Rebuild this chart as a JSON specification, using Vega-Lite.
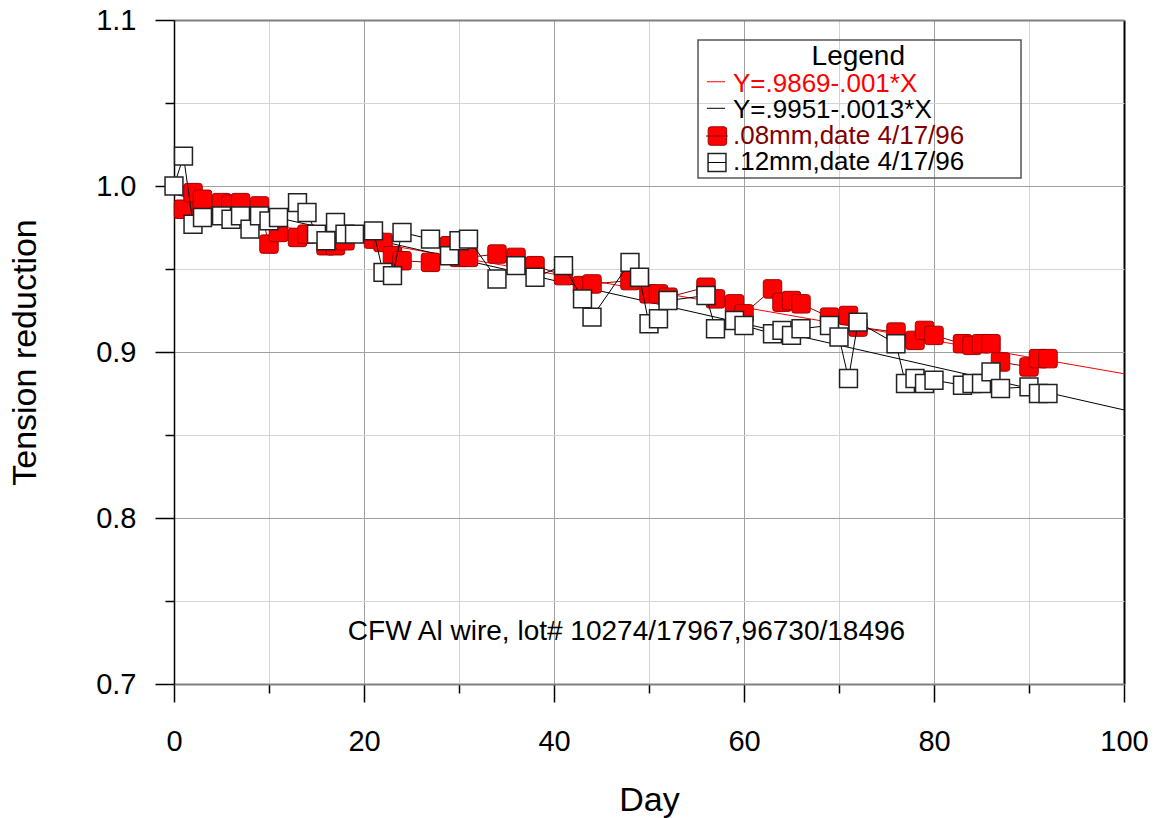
{
  "$schema": "https://vega.github.io/schema/vega-lite/v6.json",
  "width": 950,
  "height": 664,
  "autosize": {"type": "none"},
  "padding": {"left": 174, "top": 20, "right": 32, "bottom": 134},
  "background": "white",
  "config": {"font": "Liberation Sans", "view": {"stroke": null}},
  "resolve": {"axis": {"x": "independent", "y": "independent"}},
  "datasets": {
    "fit": [
      {"series": "red", "day": 0, "value": 0.9869},
      {"series": "red", "day": 100, "value": 0.8869},
      {"series": "black", "day": 0, "value": 0.9951},
      {"series": "black", "day": 100, "value": 0.8651}
    ],
    "r": [
      {"day": 1, "value": 0.986}, {"day": 2, "value": 0.996}, {"day": 3, "value": 0.992},
      {"day": 5, "value": 0.990}, {"day": 6, "value": 0.989}, {"day": 7, "value": 0.990},
      {"day": 9, "value": 0.988}, {"day": 10, "value": 0.965}, {"day": 11, "value": 0.972},
      {"day": 13, "value": 0.969}, {"day": 14, "value": 0.971}, {"day": 16, "value": 0.964},
      {"day": 17, "value": 0.964}, {"day": 18, "value": 0.967}, {"day": 21, "value": 0.968},
      {"day": 22, "value": 0.966}, {"day": 23, "value": 0.958}, {"day": 24, "value": 0.955},
      {"day": 27, "value": 0.954}, {"day": 29, "value": 0.964}, {"day": 30, "value": 0.957},
      {"day": 31, "value": 0.957}, {"day": 34, "value": 0.959}, {"day": 36, "value": 0.957},
      {"day": 38, "value": 0.952}, {"day": 41, "value": 0.946}, {"day": 43, "value": 0.940},
      {"day": 44, "value": 0.941}, {"day": 48, "value": 0.943}, {"day": 50, "value": 0.935},
      {"day": 51, "value": 0.935}, {"day": 52, "value": 0.933}, {"day": 56, "value": 0.939},
      {"day": 57, "value": 0.932}, {"day": 59, "value": 0.929}, {"day": 60, "value": 0.923},
      {"day": 63, "value": 0.938}, {"day": 64, "value": 0.930}, {"day": 65, "value": 0.931},
      {"day": 66, "value": 0.929}, {"day": 69, "value": 0.921}, {"day": 71, "value": 0.922},
      {"day": 72, "value": 0.915}, {"day": 76, "value": 0.912}, {"day": 78, "value": 0.907},
      {"day": 79, "value": 0.913}, {"day": 80, "value": 0.910}, {"day": 83, "value": 0.905},
      {"day": 84, "value": 0.904}, {"day": 85, "value": 0.905}, {"day": 86, "value": 0.905},
      {"day": 87, "value": 0.894}, {"day": 90, "value": 0.891}, {"day": 91, "value": 0.896},
      {"day": 92, "value": 0.896}
    ],
    "w": [
      {"day": 0, "value": 1.000}, {"day": 1, "value": 1.018}, {"day": 2, "value": 0.977},
      {"day": 3, "value": 0.981}, {"day": 5, "value": 0.982}, {"day": 6, "value": 0.980},
      {"day": 7, "value": 0.982}, {"day": 8, "value": 0.974}, {"day": 9, "value": 0.982},
      {"day": 10, "value": 0.979}, {"day": 11, "value": 0.981}, {"day": 13, "value": 0.990},
      {"day": 14, "value": 0.984}, {"day": 15, "value": 0.971}, {"day": 16, "value": 0.967},
      {"day": 17, "value": 0.978}, {"day": 18, "value": 0.971}, {"day": 19, "value": 0.971},
      {"day": 21, "value": 0.973}, {"day": 22, "value": 0.948}, {"day": 23, "value": 0.946},
      {"day": 24, "value": 0.972}, {"day": 27, "value": 0.968}, {"day": 29, "value": 0.958},
      {"day": 30, "value": 0.967}, {"day": 31, "value": 0.968}, {"day": 34, "value": 0.944},
      {"day": 36, "value": 0.952}, {"day": 38, "value": 0.945}, {"day": 41, "value": 0.952},
      {"day": 43, "value": 0.932}, {"day": 44, "value": 0.921}, {"day": 48, "value": 0.954},
      {"day": 49, "value": 0.945}, {"day": 50, "value": 0.917}, {"day": 51, "value": 0.920},
      {"day": 52, "value": 0.931}, {"day": 56, "value": 0.934}, {"day": 57, "value": 0.914},
      {"day": 59, "value": 0.919}, {"day": 60, "value": 0.916}, {"day": 63, "value": 0.911},
      {"day": 64, "value": 0.913}, {"day": 65, "value": 0.910}, {"day": 66, "value": 0.914},
      {"day": 69, "value": 0.916}, {"day": 70, "value": 0.909}, {"day": 71, "value": 0.884},
      {"day": 72, "value": 0.918}, {"day": 76, "value": 0.905}, {"day": 77, "value": 0.881},
      {"day": 78, "value": 0.884}, {"day": 79, "value": 0.881}, {"day": 80, "value": 0.883},
      {"day": 83, "value": 0.880}, {"day": 84, "value": 0.881}, {"day": 85, "value": 0.881},
      {"day": 86, "value": 0.888}, {"day": 87, "value": 0.878}, {"day": 90, "value": 0.879},
      {"day": 91, "value": 0.875}, {"day": 92, "value": 0.875}
    ]
  },
  "layer": [
    {
      "data": {"name": "fit"},
      "mark": {"type": "line", "strokeWidth": 1},
      "encoding": {
        "x": {
          "field": "day", "type": "quantitative",
          "scale": {"domain": [0, 100], "nice": false, "zero": false},
          "axis": {
            "orient": "bottom",
            "title": "Day", "titleFontSize": 34, "titleFontWeight": "normal", "titleColor": "#000",
            "titleX": 475, "titleY": 126, "titleBaseline": "alphabetic", "titleAlign": "center",
            "values": [0, 10, 20, 30, 40, 50, 60, 70, 80, 90, 100],
            "format": "d",
            "labelExpr": "datum.value % 20 === 0 ? datum.label : ''",
            "labelFontSize": 29, "labelColor": "#000", "labelPadding": 25,
            "labelFlush": false, "labelOverlap": false, "labelBaseline": "top",
            "tickSize": {"condition": {"test": "datum.value % 20 === 0", "value": 18}, "value": 9},
            "tickColor": "#000", "tickWidth": 1.5,
            "grid": true,
            "gridColor": {"condition": [{"test": "datum.value === 100", "value": "#000"}, {"test": "datum.value % 20 === 0", "value": "#a0a0a0"}], "value": "#d4d4d4"},
            "gridWidth": {"condition": {"test": "datum.value === 100", "value": 2}, "value": 1},
            "domainColor": "#808080", "domainWidth": 2
          }
        },
        "y": {
          "field": "value", "type": "quantitative",
          "scale": {"domain": [0.7, 1.1], "nice": false, "zero": false},
          "axis": {
            "orient": "left",
            "title": "Tension reduction", "titleFontSize": 34, "titleFontWeight": "normal", "titleColor": "#000",
            "titleX": -139, "titleY": 332, "titleAngle": 270, "titleBaseline": "alphabetic", "titleAlign": "center",
            "values": [0.7, 0.75, 0.8, 0.85, 0.9, 0.95, 1.0, 1.05, 1.1],
            "labelExpr": "abs(datum.value*10 - round(datum.value*10)) < 0.001 ? format(datum.value, '.1f') : ''",
            "labelFontSize": 29, "labelColor": "#000", "labelPadding": 19,
            "labelFlush": false, "labelOverlap": false,
            "tickSize": {"condition": {"test": "abs(datum.value*10 - round(datum.value*10)) < 0.001", "value": 19}, "value": 9},
            "tickColor": "#000", "tickWidth": 1.5,
            "grid": true,
            "gridColor": {"condition": [{"test": "datum.value > 1.09", "value": "#808080"}, {"test": "abs(datum.value*10 - round(datum.value*10)) < 0.001", "value": "#a0a0a0"}], "value": "#d4d4d4"},
            "gridWidth": {"condition": {"test": "datum.value > 1.09", "value": 2}, "value": 1},
            "domainColor": "#000", "domainWidth": 1.5
          }
        },
        "stroke": {"field": "series", "type": "nominal", "scale": {"domain": ["red", "black"], "range": ["#ff0000", "#000000"]}, "legend": null},
        "detail": {"field": "series"}
      }
    },
    {
      "data": {"name": "r"},
      "mark": {"type": "line", "stroke": "#8b0000", "strokeWidth": 1},
      "encoding": {
        "x": {"field": "day", "type": "quantitative", "scale": {"domain": [0, 100], "nice": false, "zero": false}, "axis": null},
        "y": {"field": "value", "type": "quantitative", "scale": {"domain": [0.7, 1.1], "nice": false, "zero": false}, "axis": null}
      }
    },
    {
      "data": {"name": "r"},
      "mark": {"type": "point", "shape": "M-1,-0.72Q-1,-1,-0.72,-1L0.72,-1Q1,-1,1,-0.72L1,0.72Q1,1,0.72,1L-0.72,1Q-1,1,-1,0.72Z", "filled": true, "fill": "#ff0000", "stroke": "#a00000", "strokeWidth": 1, "size": 340, "opacity": 1},
      "encoding": {
        "x": {"field": "day", "type": "quantitative", "scale": {"domain": [0, 100], "nice": false, "zero": false}, "axis": null},
        "y": {"field": "value", "type": "quantitative", "scale": {"domain": [0.7, 1.1], "nice": false, "zero": false}, "axis": null}
      }
    },
    {
      "data": {"name": "w"},
      "mark": {"type": "line", "stroke": "#000000", "strokeWidth": 1},
      "encoding": {
        "x": {"field": "day", "type": "quantitative", "scale": {"domain": [0, 100], "nice": false, "zero": false}, "axis": null},
        "y": {"field": "value", "type": "quantitative", "scale": {"domain": [0.7, 1.1], "nice": false, "zero": false}, "axis": null}
      }
    },
    {
      "data": {"name": "w"},
      "mark": {"type": "point", "shape": "square", "filled": true, "fill": "#ffffff", "stroke": "#222222", "strokeWidth": 1.5, "size": 320, "opacity": 1},
      "encoding": {
        "x": {"field": "day", "type": "quantitative", "scale": {"domain": [0, 100], "nice": false, "zero": false}, "axis": null},
        "y": {"field": "value", "type": "quantitative", "scale": {"domain": [0.7, 1.1], "nice": false, "zero": false}, "axis": null}
      }
    },
    {
      "data": {"values": [{}]},
      "mark": {"type": "rect", "fill": null, "stroke": "#555555", "strokeWidth": 1.5},
      "encoding": {
        "x": {"datum": 55.16, "type": "quantitative", "scale": {"domain": [0, 100], "nice": false, "zero": false}, "axis": null},
        "x2": {"datum": 89.16},
        "y": {"datum": 1.08795, "type": "quantitative", "scale": {"domain": [0.7, 1.1], "nice": false, "zero": false}, "axis": null},
        "y2": {"datum": 1.00482}
      }
    },
    {
      "data": {"values": [{"t": "Legend"}]},
      "mark": {"type": "text", "fontSize": 28, "align": "center", "baseline": "alphabetic", "color": "#000000"},
      "encoding": {
        "x": {"datum": 72.03, "type": "quantitative", "scale": {"domain": [0, 100], "nice": false, "zero": false}, "axis": null},
        "y": {"datum": 1.0728, "type": "quantitative", "scale": {"domain": [0.7, 1.1], "nice": false, "zero": false}, "axis": null},
        "text": {"field": "t"}
      }
    },
    {
      "data": {"values": [{"t": "Y=.9869-.001*X"}]},
      "mark": {"type": "text", "fontSize": 26, "align": "left", "baseline": "alphabetic", "color": "#ff0000"},
      "encoding": {
        "x": {"datum": 58.84, "type": "quantitative", "scale": {"domain": [0, 100], "nice": false, "zero": false}, "axis": null},
        "y": {"datum": 1.0568, "type": "quantitative", "scale": {"domain": [0.7, 1.1], "nice": false, "zero": false}, "axis": null},
        "text": {"field": "t"}
      }
    },
    {
      "data": {"values": [{"t": "Y=.9951-.0013*X"}]},
      "mark": {"type": "text", "fontSize": 26, "align": "left", "baseline": "alphabetic", "color": "#000000"},
      "encoding": {
        "x": {"datum": 58.84, "type": "quantitative", "scale": {"domain": [0, 100], "nice": false, "zero": false}, "axis": null},
        "y": {"datum": 1.0408, "type": "quantitative", "scale": {"domain": [0.7, 1.1], "nice": false, "zero": false}, "axis": null},
        "text": {"field": "t"}
      }
    },
    {
      "data": {"values": [{"t": ".08mm,date 4/17/96"}]},
      "mark": {"type": "text", "fontSize": 26, "align": "left", "baseline": "alphabetic", "color": "#800000"},
      "encoding": {
        "x": {"datum": 58.84, "type": "quantitative", "scale": {"domain": [0, 100], "nice": false, "zero": false}, "axis": null},
        "y": {"datum": 1.0251, "type": "quantitative", "scale": {"domain": [0.7, 1.1], "nice": false, "zero": false}, "axis": null},
        "text": {"field": "t"}
      }
    },
    {
      "data": {"values": [{"t": ".12mm,date 4/17/96"}]},
      "mark": {"type": "text", "fontSize": 26, "align": "left", "baseline": "alphabetic", "color": "#000000"},
      "encoding": {
        "x": {"datum": 58.84, "type": "quantitative", "scale": {"domain": [0, 100], "nice": false, "zero": false}, "axis": null},
        "y": {"datum": 1.0096, "type": "quantitative", "scale": {"domain": [0.7, 1.1], "nice": false, "zero": false}, "axis": null},
        "text": {"field": "t"}
      }
    },
    {
      "data": {"values": [{}]},
      "mark": {"type": "rule", "stroke": "#ff0000", "strokeWidth": 1},
      "encoding": {
        "x": {"datum": 56.1, "type": "quantitative", "scale": {"domain": [0, 100], "nice": false, "zero": false}, "axis": null},
        "x2": {"datum": 58.0},
        "y": {"datum": 1.0628, "type": "quantitative", "scale": {"domain": [0.7, 1.1], "nice": false, "zero": false}, "axis": null}
      }
    },
    {
      "data": {"values": [{}]},
      "mark": {"type": "rule", "stroke": "#000000", "strokeWidth": 1},
      "encoding": {
        "x": {"datum": 56.1, "type": "quantitative", "scale": {"domain": [0, 100], "nice": false, "zero": false}, "axis": null},
        "x2": {"datum": 58.0},
        "y": {"datum": 1.0468, "type": "quantitative", "scale": {"domain": [0.7, 1.1], "nice": false, "zero": false}, "axis": null}
      }
    },
    {
      "data": {"values": [{}]},
      "mark": {"type": "point", "shape": "M-1,-0.72Q-1,-1,-0.72,-1L0.72,-1Q1,-1,1,-0.72L1,0.72Q1,1,0.72,1L-0.72,1Q-1,1,-1,0.72Z", "filled": true, "fill": "#ff0000", "stroke": "#a00000", "strokeWidth": 1, "size": 340, "opacity": 1},
      "encoding": {
        "x": {"datum": 57.2, "type": "quantitative", "scale": {"domain": [0, 100], "nice": false, "zero": false}, "axis": null},
        "y": {"datum": 1.0301, "type": "quantitative", "scale": {"domain": [0.7, 1.1], "nice": false, "zero": false}, "axis": null}
      }
    },
    {
      "data": {"values": [{}]},
      "mark": {"type": "rule", "stroke": "#8b0000", "strokeWidth": 1},
      "encoding": {
        "x": {"datum": 56.0, "type": "quantitative", "scale": {"domain": [0, 100], "nice": false, "zero": false}, "axis": null},
        "x2": {"datum": 58.3},
        "y": {"datum": 1.0301, "type": "quantitative", "scale": {"domain": [0.7, 1.1], "nice": false, "zero": false}, "axis": null}
      }
    },
    {
      "data": {"values": [{}]},
      "mark": {"type": "point", "shape": "square", "filled": true, "fill": "#ffffff", "stroke": "#222222", "strokeWidth": 1.5, "size": 320, "opacity": 1},
      "encoding": {
        "x": {"datum": 57.16, "type": "quantitative", "scale": {"domain": [0, 100], "nice": false, "zero": false}, "axis": null},
        "y": {"datum": 1.01416, "type": "quantitative", "scale": {"domain": [0.7, 1.1], "nice": false, "zero": false}, "axis": null}
      }
    },
    {
      "data": {"values": [{}]},
      "mark": {"type": "rule", "stroke": "#000000", "strokeWidth": 1},
      "encoding": {
        "x": {"datum": 56.2, "type": "quantitative", "scale": {"domain": [0, 100], "nice": false, "zero": false}, "axis": null},
        "x2": {"datum": 58.1},
        "y": {"datum": 1.01416, "type": "quantitative", "scale": {"domain": [0.7, 1.1], "nice": false, "zero": false}, "axis": null}
      }
    },
    {
      "data": {"values": [{"t": "CFW Al wire, lot# 10274/17967,96730/18496"}]},
      "mark": {"type": "text", "fontSize": 28, "align": "center", "baseline": "alphabetic", "color": "#000000"},
      "encoding": {
        "x": {"datum": 47.63, "type": "quantitative", "scale": {"domain": [0, 100], "nice": false, "zero": false}, "axis": null},
        "y": {"datum": 0.7265, "type": "quantitative", "scale": {"domain": [0.7, 1.1], "nice": false, "zero": false}, "axis": null},
        "text": {"field": "t"}
      }
    }
  ]
}
